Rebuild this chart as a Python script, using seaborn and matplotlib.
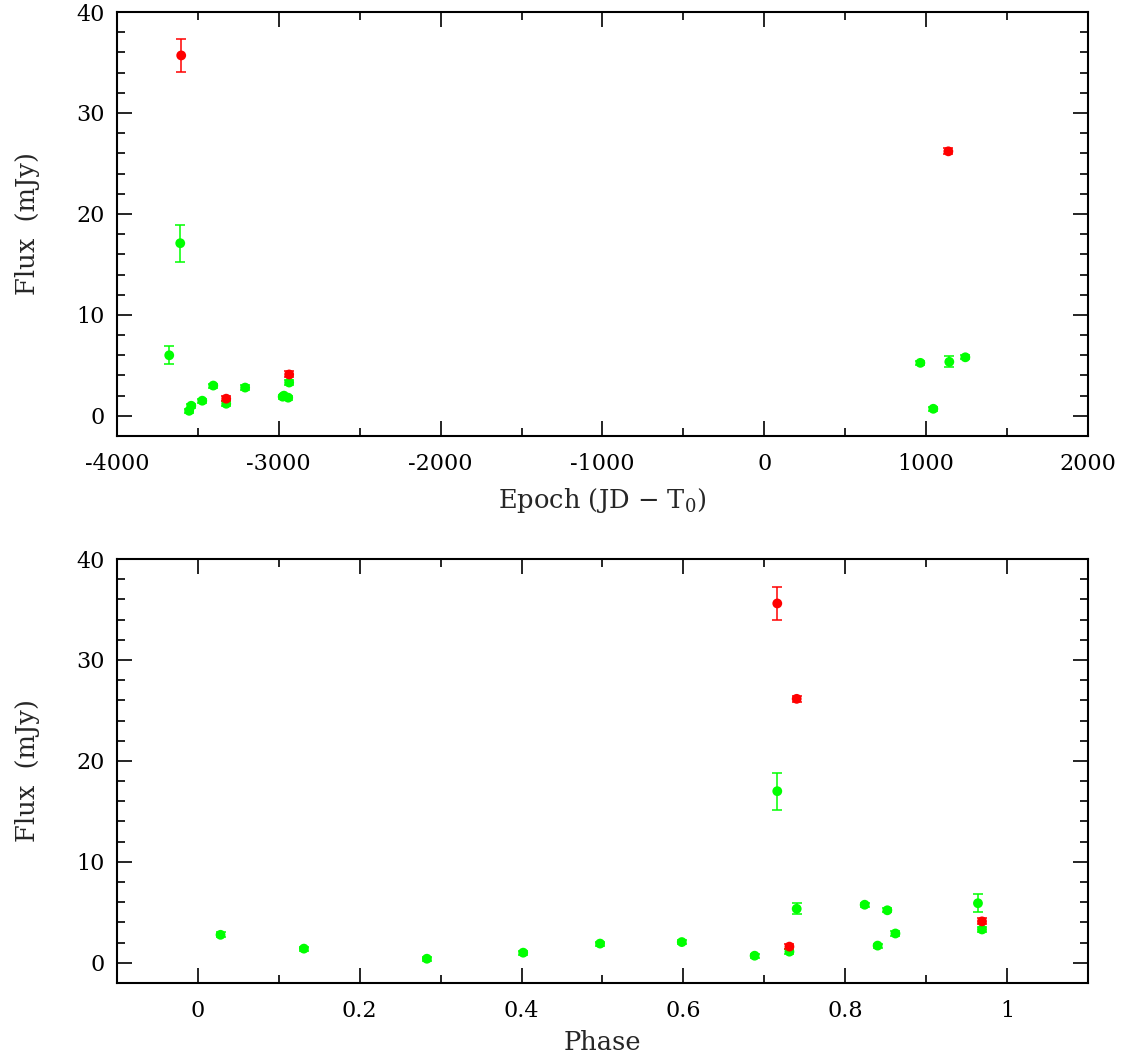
import numpy as np
import pandas as pd
import matplotlib
matplotlib.use("Agg")
import matplotlib.pyplot as plt
from matplotlib.ticker import MultipleLocator
import seaborn as sns

# ---- data ----
# top panel: green (lower frequency) points
g_epoch = [-3677, -3609, -3554, -3541, -3473, -3405, -3325, -3208,
           -2976, -2968, -2942, -2936, 964, 1044, 1143, 1242]
g_flux = [6.0, 17.1, 0.5, 1.0, 1.5, 3.0, 1.2, 2.8,
          1.9, 2.0, 1.8, 3.3, 5.25, 0.7, 5.35, 5.8]
g_err = [0.9, 1.85, 0.2, 0.2, 0.2, 0.2, 0.25, 0.25,
         0.2, 0.2, 0.2, 0.25, 0.2, 0.2, 0.56, 0.2]
# bottom panel: green phases
g_phase = [0.964, 0.716, 0.283, 0.402, 0.131, 0.862, 0.731, 0.028,
           0.497, 0.598, 0.840, 0.969, 0.852, 0.688, 0.740, 0.824]
g_pflux = [5.9, 17.0, 0.4, 1.0, 1.4, 2.9, 1.1, 2.77,
           1.9, 2.05, 1.7, 3.3, 5.2, 0.7, 5.35, 5.75]

# red (higher frequency) points
r_epoch = [-3603, -3325, -2936, 1137]
r_flux = [35.7, 1.7, 4.1, 26.2]
r_err = [1.6, 0.25, 0.3, 0.3]
r_phase = [0.716, 0.731, 0.969, 0.740]
r_pflux = [35.6, 1.6, 4.1, 26.15]

GREEN = "#00ff00"
RED = "#ff0000"

sns.set_theme(style="ticks")
plt.rcParams["font.family"] = ["DejaVu Serif", "DejaVu Sans"]
plt.rcParams["mathtext.fontset"] = "dejavuserif"
plt.rcParams["axes.unicode_minus"] = False

green_top = pd.DataFrame({"x": g_epoch, "y": g_flux, "e": g_err})
red_top = pd.DataFrame({"x": r_epoch, "y": r_flux, "e": r_err})
green_bot = pd.DataFrame({"x": g_phase, "y": g_pflux, "e": g_err})
red_bot = pd.DataFrame({"x": r_phase, "y": r_pflux, "e": r_err})

fig = plt.figure(figsize=(11.29, 10.63), dpi=100)
ax1 = fig.add_axes([0.1036, 0.5898, 0.8601, 0.3989])
ax2 = fig.add_axes([0.1036, 0.0753, 0.8601, 0.3988])


def draw(ax, g, r):
    for df, col in ((g, GREEN), (r, RED)):
        ax.errorbar(df["x"], df["y"], yerr=df["e"], fmt="none",
                    ecolor=col, elinewidth=1.1, capsize=3.8, capthick=1.1, zorder=2)
        sns.scatterplot(data=df, x="x", y="y", ax=ax, color=col, s=50,
                        edgecolor="none", linewidth=0, zorder=3, legend=False)


draw(ax1, green_top, red_top)
draw(ax2, green_bot, red_bot)

ax1.set_xlim(-4000, 2000)
ax1.xaxis.set_major_locator(MultipleLocator(1000))
ax1.xaxis.set_minor_locator(MultipleLocator(500))
ax2.set_xlim(-0.1, 1.1)
ax2.xaxis.set_minor_locator(MultipleLocator(0.1))
ax2.set_xticks([0, 0.2, 0.4, 0.6, 0.8, 1.0])
ax2.set_xticklabels(["0", "0.2", "0.4", "0.6", "0.8", "1"])

for ax in (ax1, ax2):
    ax.set_ylim(-2, 40)
    ax.yaxis.set_major_locator(MultipleLocator(10))
    ax.yaxis.set_minor_locator(MultipleLocator(2))
    ax.tick_params(which="both", direction="in", top=True, right=True,
                   colors="black", labelsize=16)
    ax.tick_params(which="major", length=11, width=1.2)
    ax.tick_params(which="minor", length=5.5, width=1.2)
    ax.tick_params(axis="x", pad=12)
    ax.tick_params(axis="y", pad=9)
    for s in ax.spines.values():
        s.set_linewidth(1.5)
        s.set_color("black")
    ax.set_ylabel("Flux  (mJy)", fontsize=18.5, labelpad=26)

ax1.set_xlabel(r"Epoch (JD $-$ T$_0$)", fontsize=18.5, labelpad=8)
ax2.set_xlabel("Phase", fontsize=18.5, labelpad=6)

fig.savefig("out.png", dpi=100)
